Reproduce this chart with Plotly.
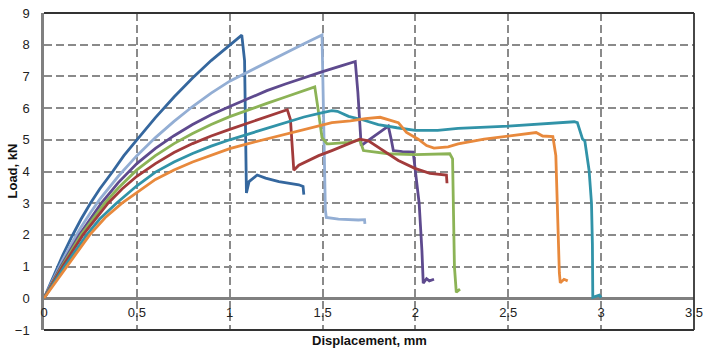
import plotly.graph_objects as go

# ---- data (displacement in mm, load in kN) ----
db_x = [0, 0.05, 0.1, 0.15, 0.2, 0.25, 0.3, 0.37, 0.43, 0.5, 0.6, 0.7, 0.8, 0.9, 1.0, 1.065, 1.08, 1.088, 1.09, 1.104, 1.148, 1.193, 1.265, 1.372, 1.395, 1.399]
db_y = [0, 0.7, 1.35, 1.95, 2.5, 3.0, 3.45, 4.0, 4.5, 5.0, 5.7, 6.35, 6.95, 7.5, 8.0, 8.3, 7.5, 4.5, 3.32, 3.68, 3.89, 3.79, 3.68, 3.58, 3.53, 3.27]

lb_x = [0, 0.05, 0.1, 0.15, 0.2, 0.25, 0.3, 0.4, 0.5, 0.6, 0.7, 0.8, 0.9, 1.0, 1.1, 1.2, 1.3, 1.4, 1.497, 1.505, 1.515, 1.52, 1.586, 1.693, 1.726, 1.728]
lb_y = [0, 0.62, 1.2, 1.75, 2.25, 2.7, 3.12, 3.85, 4.5, 5.07, 5.58, 6.05, 6.47, 6.85, 7.15, 7.45, 7.75, 8.03, 8.31, 6.0, 2.8, 2.55, 2.5, 2.47, 2.48, 2.35]

pu_x = [0, 0.09, 0.19, 0.309, 0.4, 0.5, 0.6, 0.7, 0.8, 0.9, 1.0, 1.1, 1.2, 1.3, 1.4, 1.5, 1.6, 1.676, 1.69, 1.705, 1.708, 1.75, 1.8, 1.854, 1.87, 1.881, 1.93, 1.988, 2.0, 2.02, 2.035, 2.042, 2.06, 2.075, 2.1]
pu_y = [0, 1, 2, 3, 3.65, 4.25, 4.73, 5.13, 5.48, 5.79, 6.05, 6.3, 6.55, 6.76, 6.96, 7.15, 7.33, 7.47, 6.5, 5.2, 4.82, 5.0, 5.2, 5.43, 5.0, 4.66, 4.63, 4.61, 4.0, 3.0, 1.5, 0.48, 0.62, 0.55, 0.6]

gr_x = [0, 0.095, 0.2, 0.327, 0.4, 0.5, 0.6, 0.7, 0.8, 0.9, 1.0, 1.1, 1.2, 1.3, 1.4, 1.458, 1.475, 1.497, 1.524, 1.533, 1.64, 1.70, 1.72, 1.854, 1.997, 2.185, 2.2, 2.205, 2.21, 2.22, 2.24]
gr_y = [0, 1, 2, 3, 3.48, 4.05, 4.5, 4.88, 5.2, 5.48, 5.73, 5.95, 6.15, 6.35, 6.55, 6.67, 6.0, 5.07, 4.87, 4.87, 4.92, 5.0, 4.66, 4.56, 4.53, 4.56, 4.4, 3.0, 1.0, 0.19, 0.29]

rd_x = [0, 0.1, 0.21, 0.345, 0.42, 0.5, 0.6, 0.7, 0.8, 0.9, 1.0, 1.1, 1.2, 1.3, 1.31, 1.327, 1.335, 1.345, 1.372, 1.479, 1.55, 1.70, 1.747, 1.837, 1.908, 1.997, 2.078, 2.167, 2.17]
rd_y = [0, 1, 2, 3, 3.45, 3.85, 4.25, 4.6, 4.88, 5.12, 5.33, 5.53, 5.73, 5.93, 5.95, 5.64, 5.0, 4.04, 4.2, 4.5, 4.66, 5.02, 4.97, 4.61, 4.35, 4.1, 3.94, 3.89, 3.63]

tl_x = [0, 0.11, 0.23, 0.3, 0.39, 0.5, 0.6, 0.7, 0.8, 0.9, 1.0, 1.1, 1.2, 1.3, 1.4, 1.5, 1.55, 1.58, 1.64, 1.71, 1.8, 1.9, 2.0, 2.12, 2.23, 2.5, 2.855, 2.872, 2.9, 2.912, 2.935, 2.948, 2.953, 2.955, 2.97, 2.99, 3.0]
tl_y = [0, 1, 2, 2.5, 3, 3.55, 3.98, 4.3, 4.57, 4.8, 5.0, 5.18, 5.36, 5.55, 5.72, 5.86, 5.92, 5.9, 5.74, 5.64, 5.48, 5.38, 5.3, 5.3, 5.36, 5.43, 5.57, 5.54, 5.02, 4.97, 4.04, 3.0, 1.7, 0.03, 0.05, 0.1, 0.02]

or_x = [0, 0.122, 0.246, 0.33, 0.42, 0.6, 0.7, 0.8, 0.9, 1.0, 1.1, 1.2, 1.3, 1.4, 1.5, 1.55, 1.65, 1.73, 1.81, 1.846, 1.908, 1.952, 2.015, 2.06, 2.1, 2.176, 2.23, 2.37, 2.5, 2.65, 2.685, 2.74, 2.756, 2.765, 2.775, 2.78, 2.8, 2.82]
or_y = [0, 1, 2, 2.55, 3, 3.75, 4.05, 4.3, 4.52, 4.72, 4.88, 5.03, 5.18, 5.33, 5.46, 5.54, 5.6, 5.67, 5.71, 5.64, 5.54, 5.23, 5.02, 4.82, 4.74, 4.78, 4.87, 5.02, 5.12, 5.23, 5.12, 5.1, 4.5, 2.5, 0.8, 0.49, 0.6, 0.55]

series = [
    (db_x, db_y, "#35679E"),
    (lb_x, lb_y, "#93AED4"),
    (pu_x, pu_y, "#5E4A8E"),
    (gr_x, gr_y, "#8CB356"),
    (rd_x, rd_y, "#A23B3B"),
    (tl_x, tl_y, "#3193A8"),
    (or_x, or_y, "#E8893C"),
]

x_ticks = [0, 0.5, 1, 1.5, 2, 2.5, 3, 3.5]
x_labels = ["0", "0.5", "1", "1.5", "2", "2.5", "3", "3.5"]
y_ticks = [-1, 0, 1, 2, 3, 4, 5, 6, 7, 8, 9]

FONT = "Liberation Sans, Arial, sans-serif"
GRID = "#8a8a8a"

fig = go.Figure()
for xs, ys, col in series:
    fig.add_trace(go.Scatter(x=xs, y=ys, mode="lines",
                             line=dict(color=col, width=2.8),
                             showlegend=False, hoverinfo="skip"))

fig.update_layout(
    width=709, height=349,
    margin=dict(l=44, r=12, t=6, b=19),
    paper_bgcolor="white", plot_bgcolor="white",
    font=dict(family=FONT, size=13, color="#222222"),
)
fig.update_xaxes(
    range=[0, 3.5], tickvals=x_ticks, ticktext=x_labels,
    showgrid=True, gridcolor=GRID, gridwidth=1.5, griddash="8px,4px",
    zeroline=False, showline=False, ticks="",
    anchor="free", position=0.1, ticklabelstandoff=5,
    ticklabeloverflow="allow",
    tickfont=dict(family=FONT, size=13, color="#222222"),
)
fig.update_yaxes(
    range=[-1, 9], tickvals=y_ticks,
    showgrid=True, gridcolor=GRID, gridwidth=1.5, griddash="8px,4px",
    zeroline=True, zerolinecolor="#808080", zerolinewidth=2.5,
    showline=True, linecolor="#808080", linewidth=2.5, ticks="",
    ticklabelstandoff=9, ticklabeloverflow="allow",
    tickfont=dict(family=FONT, size=13, color="#222222"),
)

border = dict(color="#333333", width=1.8)
fig.add_shape(type="line", xref="paper", yref="paper", x0=0, x1=1, y0=1, y1=1, line=border)
fig.add_shape(type="line", xref="paper", yref="paper", x0=1, x1=1, y0=0, y1=1, line=border)
fig.add_shape(type="line", xref="paper", yref="paper", x0=0, x1=1, y0=0, y1=0, line=border)

fig.add_annotation(text="<b>Displacement, mm</b>", xref="paper", yref="paper",
                   x=0.5, y=0, xanchor="center", yanchor="top", yshift=-1,
                   showarrow=False, font=dict(family=FONT, size=13, color="#111111"))
fig.add_annotation(text="<b>Load, kN</b>", xref="paper", yref="paper",
                   x=0, y=0.5, xanchor="center", yanchor="middle", xshift=-32,
                   textangle=-90, showarrow=False,
                   font=dict(family=FONT, size=13, color="#111111"))

fig.write_html("out.html",
               config={"displayModeBar": False},
               post_script="document.body.style.margin='0';document.body.style.padding='0';")
